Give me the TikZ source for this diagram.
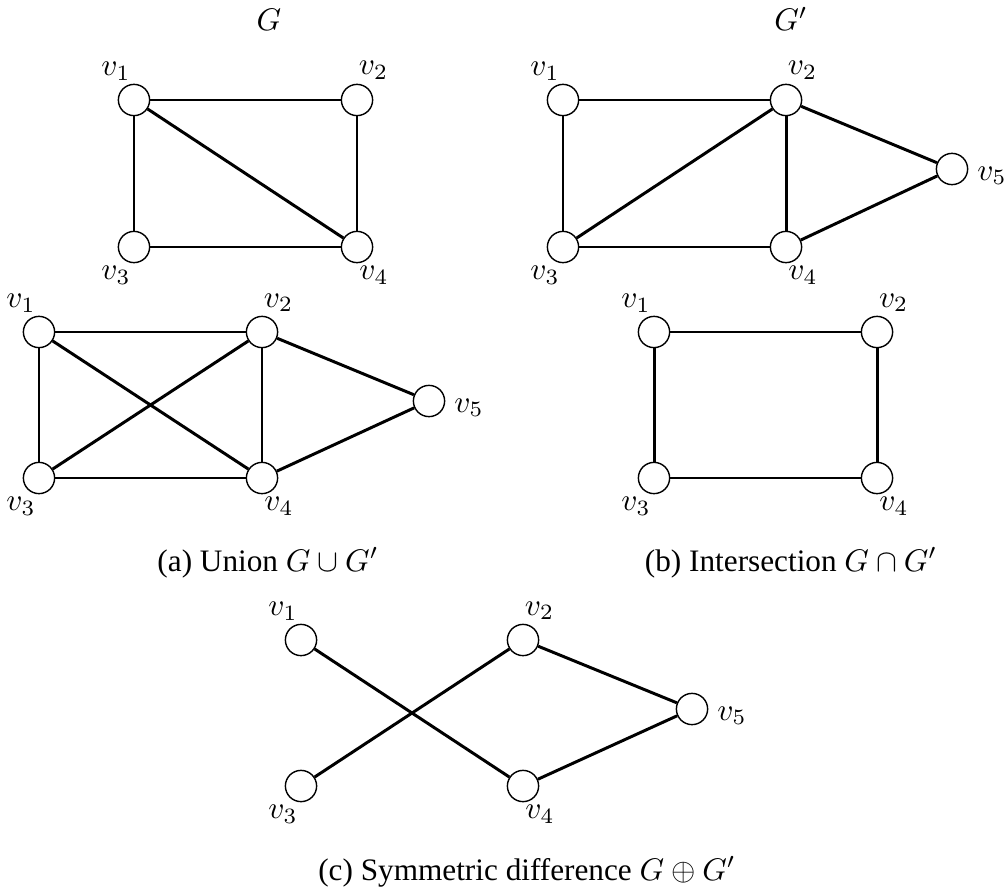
\documentclass[tikz,border=0pt]{standalone}
\usepackage[no-math]{fontspec}
\setmainfont{Liberation Serif}
\tikzset{
  vtx/.style={circle, draw, line width=0.45pt, fill=white, minimum size=10pt, inner sep=0pt},
  vlab/.style={inner sep=0pt, anchor=base},
  lbUL/.style={xshift=-5.76pt, yshift=7.84pt},
  lbUR/.style={xshift=5.3pt, yshift=8pt},
  lbDL/.style={xshift=-5.76pt, yshift=-10.43pt},
  lbDR/.style={xshift=5.44pt, yshift=-10.43pt},
  lbRR/.style={xshift=12.8pt, yshift=-3.52pt},
  edge/.style={line width=0.95pt},
  ttl/.style={inner sep=0pt, anchor=base},
}
\newcommand\mkvert[5]{%
  \node[vtx] (#1) at (#2,#3) {};
  \node[vlab,#5] (#1l) at (#1) {$#4$};}
\begin{document}
\begin{tikzpicture}[x=0.32pt,y=-0.32pt]
\useasboundingbox (0,0) rectangle (1006,891);
% ---------- G ----------
\node[ttl] (tG) at (269,31) {$G$};
\mkvert{g1}{134}{100}{v_1}{lbUL}
\mkvert{g2}{357}{100}{v_2}{lbUR}
\mkvert{g3}{134}{247}{v_3}{lbDL}
\mkvert{g4}{357}{247}{v_4}{lbDR}
\draw[edge] (g1) -- (g2);
\draw[edge] (g1) -- (g3);
\draw[edge] (g2) -- (g4);
\draw[edge] (g3) -- (g4);
\draw[edge] (g1) -- (g4);
% ---------- G' ----------
\node[ttl] (tH) at (791,31) {$G'$};
\mkvert{h1}{563}{100}{v_1}{lbUL}
\mkvert{h2}{786}{100}{v_2}{lbUR}
\mkvert{h3}{563}{247}{v_3}{lbDL}
\mkvert{h4}{786}{247}{v_4}{lbDR}
\mkvert{h5}{952}{169}{v_5}{lbRR}
\draw[edge] (h1) -- (h2);
\draw[edge] (h1) -- (h3);
\draw[edge] (h2) -- (h3);
\draw[edge] (h2) -- (h4);
\draw[edge] (h3) -- (h4);
\draw[edge] (h2) -- (h5);
\draw[edge] (h4) -- (h5);
% ---------- Union ----------
\mkvert{u1}{39}{332}{v_1}{lbUL}
\mkvert{u2}{262}{332}{v_2}{lbUR}
\mkvert{u3}{39}{478}{v_3}{lbDL}
\mkvert{u4}{262}{478}{v_4}{lbDR}
\mkvert{u5}{429}{401}{v_5}{lbRR}
\draw[edge] (u1) -- (u2);
\draw[edge] (u1) -- (u3);
\draw[edge] (u1) -- (u4);
\draw[edge] (u2) -- (u3);
\draw[edge] (u2) -- (u4);
\draw[edge] (u3) -- (u4);
\draw[edge] (u2) -- (u5);
\draw[edge] (u4) -- (u5);
\node[ttl] (cA) at (268,571) {(a) Union $G\cup G'$};
% ---------- Intersection ----------
\mkvert{i1}{654}{332}{v_1}{lbUL}
\mkvert{i2}{877}{332}{v_2}{lbUR}
\mkvert{i3}{654}{478}{v_3}{lbDL}
\mkvert{i4}{877}{478}{v_4}{lbDR}
\draw[edge] (i1) -- (i2);
\draw[edge] (i1) -- (i3);
\draw[edge] (i2) -- (i4);
\draw[edge] (i3) -- (i4);
\node[ttl] (cB) at (791,571) {(b) Intersection $G\cap G'$};
% ---------- Symmetric difference ----------
\mkvert{s1}{301}{640}{v_1}{lbUL}
\mkvert{s2}{523}{640}{v_2}{lbUR}
\mkvert{s3}{301}{786}{v_3}{lbDL}
\mkvert{s4}{523}{786}{v_4}{lbDR}
\mkvert{s5}{692}{709}{v_5}{lbRR}
\draw[edge] (s1) -- (s4);
\draw[edge] (s2) -- (s3);
\draw[edge] (s2) -- (s5);
\draw[edge] (s4) -- (s5);
\node[ttl] (cC) at (527,880) {(c) Symmetric difference $G\oplus G'$};
\end{tikzpicture}
\end{document}
